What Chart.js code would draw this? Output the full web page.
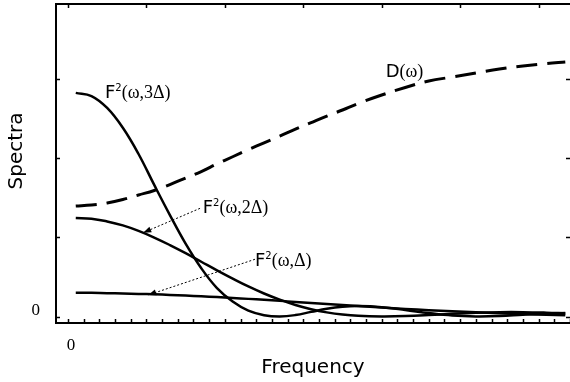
<!DOCTYPE html>
<html>
<head>
<meta charset="utf-8">
<script src="https://cdn.jsdelivr.net/npm/chart.js@4.4.0/dist/chart.umd.min.js"></script>
<style>
  html, body { margin: 0; padding: 0; background: #fff; overflow: hidden; }
  #wrap { width: 570px; height: 382px; }
</style>
</head>
<body>
<div id="wrap"><canvas id="spectra" width="570" height="382"></canvas></div>
<script>
// frequency samples (in bottom tick units) and the curves
const freq = [0.5, 1.5, 2.5, 3.5, 4.5, 5.5, 6.5, 7.5, 8.5, 9.5, 10.5, 11.5, 12.5, 13.5,
  14.5, 15.5, 16.5, 17.5, 18.5, 20, 21.5, 23, 24.5, 26, 27.5, 29, 30.5, 31.7]
const dOmega = [1.394, 1.407, 1.432, 1.476, 1.533, 1.590, 1.665, 1.747, 1.829, 1.925, 2.015, 2.105,
  2.190, 2.275, 2.362, 2.445, 2.527, 2.604, 2.686, 2.793, 2.888, 2.970, 3.020, 3.071, 3.121, 3.159, 3.190, 3.209]
const f3Delta = [2.82, 2.78, 2.63, 2.38, 2.05, 1.66, 1.28, 0.92, 0.61, 0.36, 0.19, 0.075, 0.018, 0.002,
  0.02, 0.06, 0.10, 0.125, 0.133, 0.12, 0.085, 0.045, 0.014, 0.003, 0.008, 0.025, 0.04, 0.045]
const f2Delta = [1.243, 1.235, 1.20, 1.15, 1.081, 0.997, 0.902, 0.80, 0.692, 0.584, 0.48, 0.381, 0.292, 0.214,
  0.147, 0.094, 0.054, 0.026, 0.01, 0.003, 0.007, 0.02, 0.037, 0.05, 0.057, 0.057, 0.05, 0.041]
const f1Delta = [0.30, 0.30, 0.295, 0.292, 0.287, 0.281, 0.274, 0.266, 0.257, 0.247, 0.236, 0.224, 0.212, 0.199,
  0.186, 0.173, 0.160, 0.147, 0.135, 0.116, 0.098, 0.082, 0.067, 0.054, 0.042, 0.032, 0.024, 0.018]

const xTickLabels = ['0']
const yTickLabels = ['0']
const yTitle = 'Spectra'

// curve names, anchored in data units (left end of the text baseline)
const curveLabels = [
  { main: 'F', sup: '2', rest: '(ω,3Δ)', at: [2.36, 2.755] },
  { main: 'D', sup: '', rest: '(ω)', at: [20.25, 3.02] },
  { main: 'F', sup: '2', rest: '(ω,2Δ)', at: [8.59, 1.306] },
  { main: 'F', sup: '2', rest: '(ω,Δ)', at: [11.92, 0.638] }
]
const pointers = [
  { from: [8.42, 1.365], to: [4.80, 1.058] },
  { from: [11.92, 0.723], to: [5.12, 0.273] }
]

const pts = (ys) => freq.map((f, i) => ({ x: f, y: ys[i] }))

function curve(ys, dash, width) {
    return {
        data: pts(ys),
        borderColor: '#000',
        borderWidth: width,
        borderDash: dash,
        borderCapStyle: 'butt',
        pointRadius: 0,
        fill: false,
        tension: 0.4
    }
}

// box frame with inward ticks
const frameTicks = {
    id: 'frameTicks',
    afterDatasetsDraw(chart) {
        const ctx = chart.ctx
        const { left, right, top, bottom } = chart.chartArea
        const xs = chart.scales.x, ys = chart.scales.y
        ctx.save()
        ctx.strokeStyle = '#000'
        ctx.lineWidth = 2
        ctx.beginPath()
        ctx.moveTo(right + 2, top)
        ctx.lineTo(left, top)
        ctx.lineTo(left, bottom)
        ctx.lineTo(right + 2, bottom)
        ctx.stroke()
        ctx.lineWidth = 1.5
        ctx.beginPath()
        xs.ticks.forEach(t => {
            const px = Math.round(xs.getPixelForValue(t.value)) + 0.5
            ctx.moveTo(px, bottom)
            ctx.lineTo(px, bottom - 4)
            if (t.value % 5 === 0) {
                ctx.moveTo(px, top)
                ctx.lineTo(px, top + 4)
            }
        })
        ys.ticks.forEach(t => {
            const py = Math.round(ys.getPixelForValue(t.value)) + 0.5
            ctx.moveTo(left, py)
            ctx.lineTo(left + 4, py)
            ctx.moveTo(right, py)
            ctx.lineTo(right - 4, py)
        })
        ctx.stroke()
        ctx.restore()
    }
}

function arrow(ctx, x0, y0, x1, y1) {
    ctx.save()
    ctx.lineWidth = 1
    ctx.setLineDash([2, 2])
    ctx.beginPath()
    ctx.moveTo(x0, y0)
    ctx.lineTo(x1, y1)
    ctx.stroke()
    ctx.setLineDash([])
    const a = Math.atan2(y1 - y0, x1 - x0)
    const len = 8, half = 3
    ctx.beginPath()
    ctx.moveTo(x1, y1)
    ctx.lineTo(x1 - len * Math.cos(a) + half * Math.sin(a), y1 - len * Math.sin(a) - half * Math.cos(a))
    ctx.lineTo(x1 - len * Math.cos(a) - half * Math.sin(a), y1 - len * Math.sin(a) + half * Math.cos(a))
    ctx.closePath()
    ctx.fill()
    ctx.restore()
}

const curveNotes = {
    id: 'curveNotes',
    afterDatasetsDraw(chart) {
        const ctx = chart.ctx
        const xs = chart.scales.x, ys = chart.scales.y
        ctx.save()
        ctx.fillStyle = '#000'
        ctx.strokeStyle = '#000'
        ctx.textAlign = 'left'
        ctx.textBaseline = 'alphabetic'
        curveLabels.forEach(l => {
            let x = xs.getPixelForValue(l.at[0])
            const y = ys.getPixelForValue(l.at[1])
            ctx.font = '18px "DejaVu Sans"'
            ctx.fillText(l.main, x, y)
            x += ctx.measureText(l.main).width
            if (l.sup) {
                ctx.font = '10px "DejaVu Sans"'
                ctx.fillText(l.sup, x, y - 7)
                x += ctx.measureText(l.sup).width
            }
            ctx.font = '18px "Liberation Serif"'
            ctx.fillText(l.rest, x, y)
        })
        pointers.forEach(p => {
            arrow(ctx,
                xs.getPixelForValue(p.from[0]), ys.getPixelForValue(p.from[1]),
                xs.getPixelForValue(p.to[0]), ys.getPixelForValue(p.to[1]))
        })
        // y axis title, sitting a little above the middle of the plot like the original
        ctx.translate(17, chart.chartArea.top + 147)
        ctx.rotate(-Math.PI / 2)
        ctx.textAlign = 'center'
        ctx.textBaseline = 'middle'
        ctx.font = '20px "DejaVu Sans"'
        ctx.fillText(yTitle, 0, 0)
        ctx.restore()
    }
}

new Chart(document.getElementById('spectra'), {
    type: 'line',
    data: {
        datasets: [
            curve(dOmega, [21, 10], 3),
            curve(f3Delta, [], 2.5),
            curve(f2Delta, [], 2.5),
            curve(f1Delta, [], 2.5)
        ]
    },
    options: {
        responsive: false,
        animation: false,
        devicePixelRatio: 1,
        layout: { padding: { top: 4, right: 0, left: 0, bottom: 0 } },
        plugins: { legend: { display: false }, tooltip: { enabled: false } },
        scales: {
            x: {
                type: 'linear',
                min: -0.76,
                max: 32,
                grid: { display: false, drawTicks: false },
                border: { display: false },
                ticks: {
                    stepSize: 1,
                    includeBounds: false,
                    autoSkip: false,
                    maxRotation: 0,
                    padding: 12,
                    labelOffset: 3,
                    color: '#000',
                    font: { family: 'Liberation Serif', size: 17 },
                    callback: (v) => v === 0 ? xTickLabels[0] : ''
                },
                title: {
                    display: true,
                    text: 'Frequency',
                    color: '#000',
                    font: { family: 'DejaVu Sans', size: 20 },
                    padding: { top: 0, bottom: 2 }
                },
                afterFit: (s) => {
                    s.height = 59
                    s.paddingLeft = 0
                    s.paddingRight = 0
                }
            },
            y: {
                type: 'linear',
                min: -0.08,
                max: 3.94,
                grid: { display: false, drawTicks: false },
                border: { display: false },
                ticks: {
                    stepSize: 1,
                    includeBounds: false,
                    padding: 16,
                    labelOffset: -6,
                    color: '#000',
                    font: { family: 'Liberation Serif', size: 17 },
                    callback: (v) => v === 0 ? yTickLabels[0] : ''
                },
                afterFit: (s) => {
                    s.width = 56
                    s.paddingTop = 0
                    s.paddingBottom = 0
                }
            }
        }
    },
    plugins: [frameTicks, curveNotes]
})
</script>
</body>
</html>
